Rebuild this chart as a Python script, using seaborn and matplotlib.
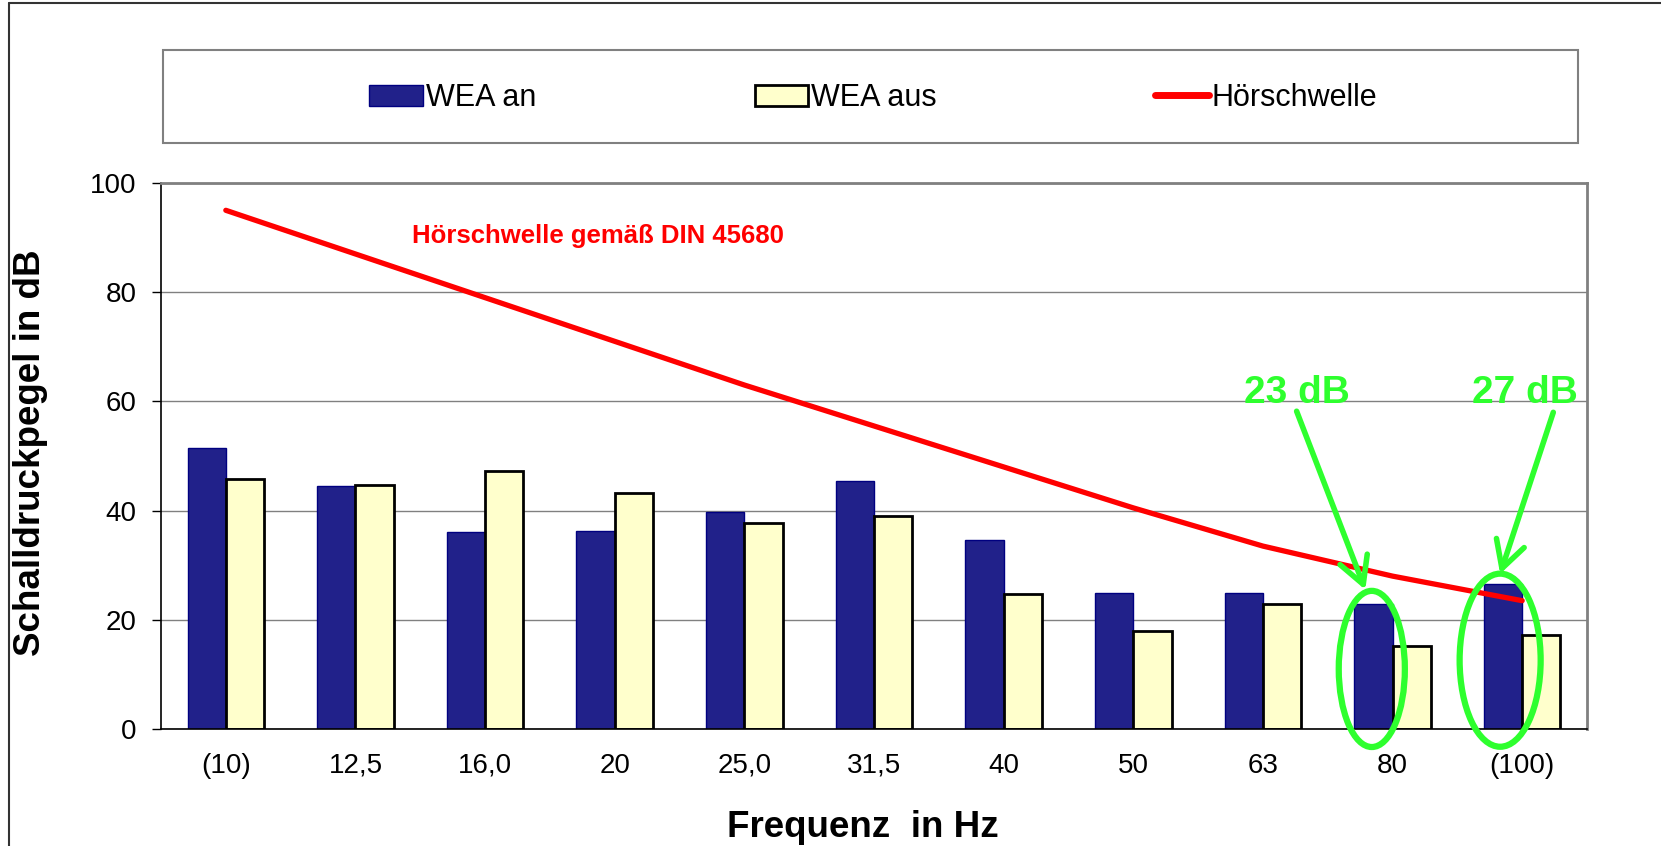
import numpy as np
import pandas as pd
import matplotlib
matplotlib.use("Agg")
import matplotlib.pyplot as plt
from matplotlib.patches import Ellipse, Rectangle, Patch
from matplotlib.lines import Line2D
import seaborn as sns

# ---- data ----
categories = ["(10)", "12,5", "16,0", "20", "25,0", "31,5", "40", "50", "63", "80", "(100)"]
wea_an = [51.5, 44.5, 36.0, 36.3, 39.7, 45.4, 34.7, 24.9, 24.9, 22.9, 26.5]
wea_aus = [45.7, 44.7, 47.2, 43.2, 37.7, 39.1, 24.7, 17.9, 22.9, 15.2, 17.2]
hoerschwelle = [95.0, 87.0, 79.0, 71.0, 63.0, 55.5, 48.0, 40.5, 33.5, 28.0, 23.5]
series_names = ["WEA an", "WEA aus"]
line_name = "Hörschwelle"
y_ticks = [0, 20, 40, 60, 80, 100]

df = pd.DataFrame({
    "Frequenz": categories * 2,
    "Pegel": wea_an + wea_aus,
    "Serie": [series_names[0]] * len(categories) + [series_names[1]] * len(categories),
})

sns.set_theme(style="white")
plt.rcParams["font.family"] = ["Liberation Sans", "DejaVu Sans"]
for k in ["text.color", "axes.labelcolor", "xtick.color", "ytick.color"]:
    plt.rcParams[k] = "black"

W, H = 1661, 846
fig = plt.figure(figsize=(W / 100, H / 100), dpi=100)
ax = fig.add_axes([161 / W, 1 - 729 / H, (1587 - 161) / W, (729 - 183) / H])

blue = "#21218A"
yellow = "#FFFFCC"
red = "#FF0000"
green = "#2EFF2E"

sns.barplot(data=df, x="Frequenz", y="Pegel", hue="Serie", order=categories,
            hue_order=series_names, palette=[blue, yellow], saturation=1,
            width=0.59, gap=0, errorbar=None, legend=False, ax=ax, zorder=2)
for cont, ec, lw in zip(ax.containers, ["#000080", "black"], [1.0, 2.0]):
    for bar in cont:
        bar.set_edgecolor(ec)
        bar.set_linewidth(lw)

sns.pointplot(x=categories, y=hoerschwelle, order=categories, color=red,
              markers="", linestyles="-", linewidth=3.8, errorbar=None, ax=ax)
for ln in ax.lines:
    ln.set_zorder(4)
    ln.set_solid_capstyle("round")

ax.set_xlim(-0.5, len(categories) - 0.5)
ax.set_ylim(0, 100)
ax.set_yticks(y_ticks)
ax.set_yticklabels([str(v) for v in y_ticks], fontsize=20, color="black")
ax.yaxis.grid(True, color="#808080", linewidth=1.0, zorder=0)
ax.set_axisbelow(True)

ax.set_xticks(range(len(categories)))
ax.set_xticklabels(categories, fontsize=20, color="black")
ax.set_xticks(np.arange(-0.5, len(categories), 1.0), minor=True)
ax.tick_params(axis="x", which="major", length=0, pad=17)
ax.tick_params(axis="x", which="minor", length=6.5, width=1, color="black", direction="out")
ax.tick_params(axis="y", which="major", length=6.5, width=1, color="black", direction="out",
               left=True, pad=11)

for s in ["left", "bottom"]:
    ax.spines[s].set_color("black")
    ax.spines[s].set_linewidth(1.2)
for s in ["top", "right"]:
    ax.spines[s].set_color("#808080")
    ax.spines[s].set_linewidth(2.0)

ax.set_xlabel("Frequenz  in Hz", fontsize=26.5, fontweight="bold", color="black")
ax.set_ylabel("Schalldruckpegel in dB", fontsize=26.5, fontweight="bold", color="black")
ax.xaxis.set_label_coords((863 - 161) / 1426, (729 - 810) / 546)
ax.yaxis.set_label_coords((48 - 161) / 1426, 0.506)

# annotations
ax.text(2.87, 90.3, "Hörschwelle gemäß DIN 45680", color=red, fontsize=18.5,
        fontweight="bold", ha="center", va="center", zorder=5)
ax.text(8.26, 61.6, "23 dB", color=green, fontsize=28, fontweight="bold",
        ha="center", va="center", zorder=6)
ax.text(10.02, 61.6, "27 dB", color=green, fontsize=28, fontweight="bold",
        ha="center", va="center", zorder=6, clip_on=False)

arrow_kw = dict(arrowstyle="->,head_length=0.55,head_width=0.3", color=green, lw=4,
                mutation_scale=35, shrinkA=0, shrinkB=0)
ax.annotate("", xy=(8.79, 25.5), xytext=(8.26, 58.2), arrowprops=arrow_kw, zorder=6)
ax.annotate("", xy=(9.83, 28.4), xytext=(10.24, 58.0), arrowprops=arrow_kw, zorder=6,
            annotation_clip=False)

for (cx, cy, w, h) in [(8.84, 11.0, 0.51, 28.6), (9.83, 12.6, 0.625, 31.7)]:
    e = Ellipse((cx, cy), w, h, fill=False, edgecolor=green, linewidth=4.5,
                zorder=7, clip_on=False)
    ax.add_patch(e)

# legend box
fig.patches.append(Rectangle((163 / W, 1 - 143 / H), (1578 - 163) / W, 93 / H,
                             transform=fig.transFigure, fill=False,
                             edgecolor="#808080", linewidth=1.5))
handles = [Patch(facecolor=blue, edgecolor="#000080", linewidth=1.0),
           Patch(facecolor=yellow, edgecolor="black", linewidth=2.0),
           Line2D([0], [0], color=red, linewidth=5)]
fig.legend(handles, series_names + [line_name], loc="center",
           bbox_to_anchor=(873.5 / W, 1 - 98 / H), ncol=3, frameon=False,
           fontsize=22, handlelength=1.75, handletextpad=0.1, columnspacing=7.15,
           handleheight=0.7, labelcolor="black")

# figure border (top and left)
fig.add_artist(Line2D([9 / W, 1], [1 - 3 / H, 1 - 3 / H], transform=fig.transFigure,
                      color="#333333", linewidth=1.5))
fig.add_artist(Line2D([9 / W, 9 / W], [0, 1 - 3 / H], transform=fig.transFigure,
                      color="#333333", linewidth=1.5))

fig.savefig("out.png", dpi=100, facecolor="white")
